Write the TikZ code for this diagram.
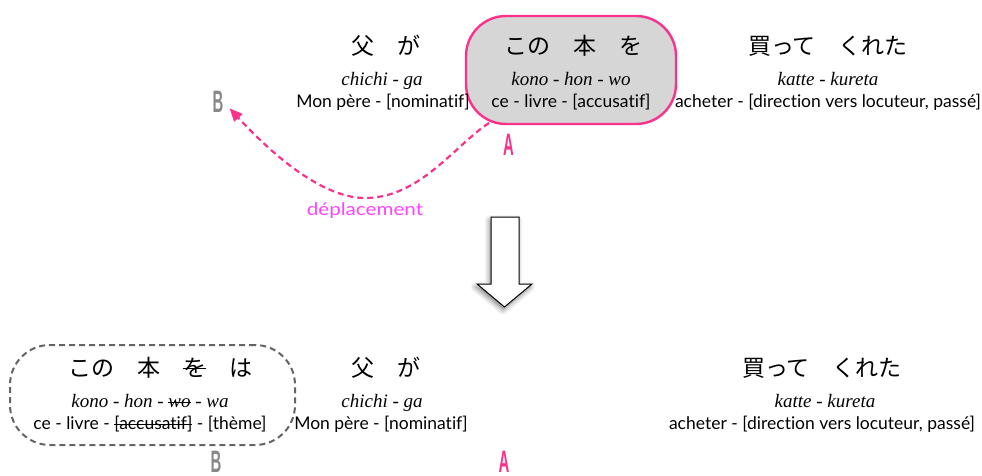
\documentclass[tikz,border=0pt]{standalone}
\usepackage{fontspec}
\usepackage{graphicx}
\usetikzlibrary{arrows.meta,calc,shadows.blur}
\setmainfont{Lato}[Ligatures={NoCommon}]
\newfontfamily\jpfont{Noto Sans CJK JP}
\newfontfamily\romfont{Liberation Serif}
\newfontfamily\labfont{Liberation Sans}
\definecolor{rose}{RGB}{250,50,140}
\definecolor{mauve}{RGB}{255,68,255}
\definecolor{boxgray}{RGB}{214,214,214}
\definecolor{labgray}{RGB}{136,136,136}
\definecolor{dashgray}{RGB}{100,100,100}
\newcommand\barre[2][0.5ex]{\sbox0{#2}\makebox[0pt][l]{\usebox0}\rule[#1]{\wd0}{0.8pt}}
\newcommand\lettre[1]{\scalebox{0.48}[1]{#1}}
\begin{document}
\begin{tikzpicture}[x=1pt,y=-1pt,
  jp/.style={font=\jpfont\fontsize{23}{23}\selectfont, anchor=base, inner sep=0pt},
  rom/.style={font=\romfont\itshape\fontsize{19}{19}\selectfont, anchor=base, inner sep=0pt},
  fr/.style={font=\fontsize{17.5}{17.5}\selectfont, anchor=base, inner sep=0pt},
  lab/.style={font=\labfont\bfseries\fontsize{31}{31}\selectfont, anchor=base, inner sep=0pt},
  movebox/.style={draw=rose, fill=boxgray, line width=2.4pt, rounded corners=40pt},
  themebox/.style={draw=dashgray, line width=2pt, dash pattern=on 6pt off 4pt, rounded corners=40pt},
  movearrow/.style={rose, line width=2.2pt, dash pattern=on 6pt off 4pt, -{Triangle[length=13pt,width=11pt]}},
  bigarrow/.style={draw=black, fill=white, line width=1pt, blur shadow={shadow xshift=-1.5pt, shadow yshift=-3pt, shadow blur radius=5pt, shadow opacity=50}}
]
\useasboundingbox (0,0) rectangle (982,476);

% ---------- top row ----------
\node[movebox, minimum width=210pt, minimum height=108pt] (boxA) at (571,70) {};

\node[jp] (j1) at (386,55) {父　が};
\node[rom] (r1) at (382,86) {chichi - ga};
\node[fr] (f1) at (383,108) {Mon père - [nominatif]};

\node[jp] (j2) at (573,55) {この　本　を};
\node[rom] (r2) at (571,86) {kono - hon - wo};
\node[fr] (f2) at (571,108) {ce - livre - [accusatif]};

\node[jp] (j3) at (828,55) {買って　くれた};
\node[rom] (r3) at (828,86) {katte - kureta};
\node[fr] (f3) at (828,108) {acheter - [direction vers locuteur, passé]};

\node[lab, text=labgray] (Btop) at (218,113) {\lettre{B}};
\node[lab, text=rose] (Atop) at (508.5,155) {\lettre{A}};

\coordinate (depart) at (489,123);
\draw[movearrow] (depart) .. controls (455,145) and (420,198) .. (365,198)
  .. controls (320,198) and (268,150) .. ($(Btop.east)+(6,6)$);
\node[fr, text=mauve] (dep) at (365,215) {\scalebox{1.18}[1]{déplacement}};

% ---------- big arrow ----------
\draw[bigarrow] (491,217) -- (519,217) -- (519,284) -- (532,284) -- (504.5,307) -- (477,284) -- (491,284) -- cycle;

% ---------- bottom row ----------
\node[themebox, minimum width=285pt, minimum height=100pt] (boxB) at (152.5,395) {};

\node[jp] (j4) at (160,376) {この　本　\barre[0.33em]{を}　は};
\node[rom] (r4) at (150,407) {kono - hon - \barre[0.22em]{wo} - wa};
\node[fr] (f4) at (150,429) {ce - livre - \barre[0.5ex]{[accusatif]} - [thème]};

\node[jp] (j5) at (386,376) {父　が};
\node[rom] (r5) at (382,407) {chichi - ga};
\node[fr] (f5) at (381,429) {Mon père - [nominatif]};

\node[jp] (j6) at (822,376) {買って　くれた};
\node[rom] (r6) at (825,407) {katte - kureta};
\node[fr] (f6) at (822,429) {acheter - [direction vers locuteur, passé]};

\node[lab, text=labgray] (Bbot) at (216,472) {\lettre{B}};
\node[lab, text=rose] (Abot) at (504,472) {\lettre{A}};
\end{tikzpicture}
\end{document}
